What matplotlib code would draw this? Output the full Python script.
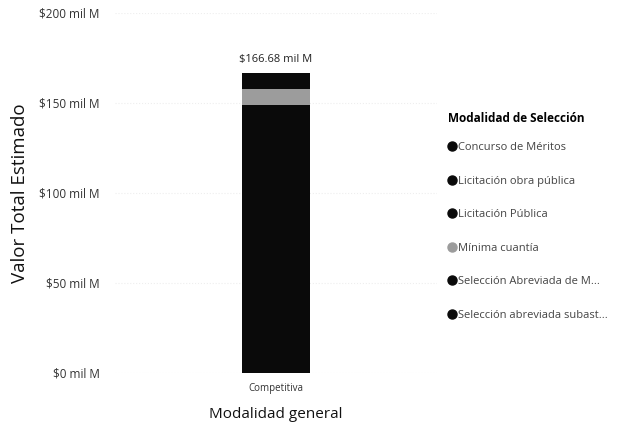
import matplotlib
matplotlib.use('Agg')
import matplotlib.pyplot as plt
from matplotlib.lines import Line2D
from matplotlib.ticker import FuncFormatter, FixedLocator

plt.rcParams['font.family'] = ['Open Sans', 'DejaVu Sans']

categories = ['Competitiva']
legend_title = 'Modalidad de Selección'
series_names = ['Concurso de Méritos', 'Licitación obra pública', 'Licitación Pública',
                'Mínima cuantía', 'Selección Abreviada de M...', 'Selección abreviada subast...']
series_values = [4.2, 58.3, 86.5, 8.8, 6.3, 2.58]
series_colors = ['#0a0a0a', '#0a0a0a', '#0a0a0a', '#9c9c9c', '#0a0a0a', '#0a0a0a']
y_ticks = [0, 50, 100, 150, 200]

fig = plt.figure(figsize=(6.21, 4.29), dpi=100)
ax = fig.add_axes([115/621, 56/429, 322/621, 360/429])

bottom = 0.0
handles = []
for name, v, c in zip(series_names, series_values, series_colors):
    ax.bar(categories, [v], bottom=bottom, width=0.214, color=c, label=name, zorder=3)
    bottom += v
    handles.append(Line2D([], [], marker='o', linestyle='none', markersize=6.5,
                          markerfacecolor=c, markeredgecolor=c, label=name))
total = bottom

ax.annotate(f'${total:.2f} mil M', xy=(0, total), xytext=(0, 6), textcoords='offset points',
            ha='center', va='bottom', fontsize=8, color='#222222')

ax.set_xlim(-0.5, 0.5)
ax.set_ylim(0, 200)
ax.yaxis.set_major_locator(FixedLocator(y_ticks))
ax.yaxis.set_major_formatter(FuncFormatter(lambda v, p: f'${v:.0f} mil M'))
ax.tick_params(axis='y', length=0, pad=11, labelsize=8.5, labelcolor='#333333')
ax.tick_params(axis='x', length=0, pad=7, labelsize=7, labelcolor='#333333')
for s in ax.spines.values():
    s.set_visible(False)
ax.grid(axis='y', color='#eeeeee', linestyle=':', linewidth=0.8, zorder=0)

ax.set_ylabel('Valor Total Estimado', fontsize=13.5, color='#111111')
ax.yaxis.set_label_coords(-0.267, 0.5)
ax.set_xlabel('Modalidad general', fontsize=11, color='#111111')
ax.xaxis.set_label_coords(0.5, -0.095)

fig.text(448/621, 1 - 118/429, legend_title, fontsize=8.5, fontweight='bold',
         color='#000000', ha='left', va='center')
leg = fig.legend(handles=handles, loc='upper left', bbox_to_anchor=(447/621, 1 - 142/429),
                 frameon=False, fontsize=8, labelspacing=2.03, handletextpad=0.05,
                 handlelength=0.9, borderaxespad=0, borderpad=0)
for t in leg.get_texts():
    t.set_color('#444444')

fig.savefig('out.png', dpi=100)
